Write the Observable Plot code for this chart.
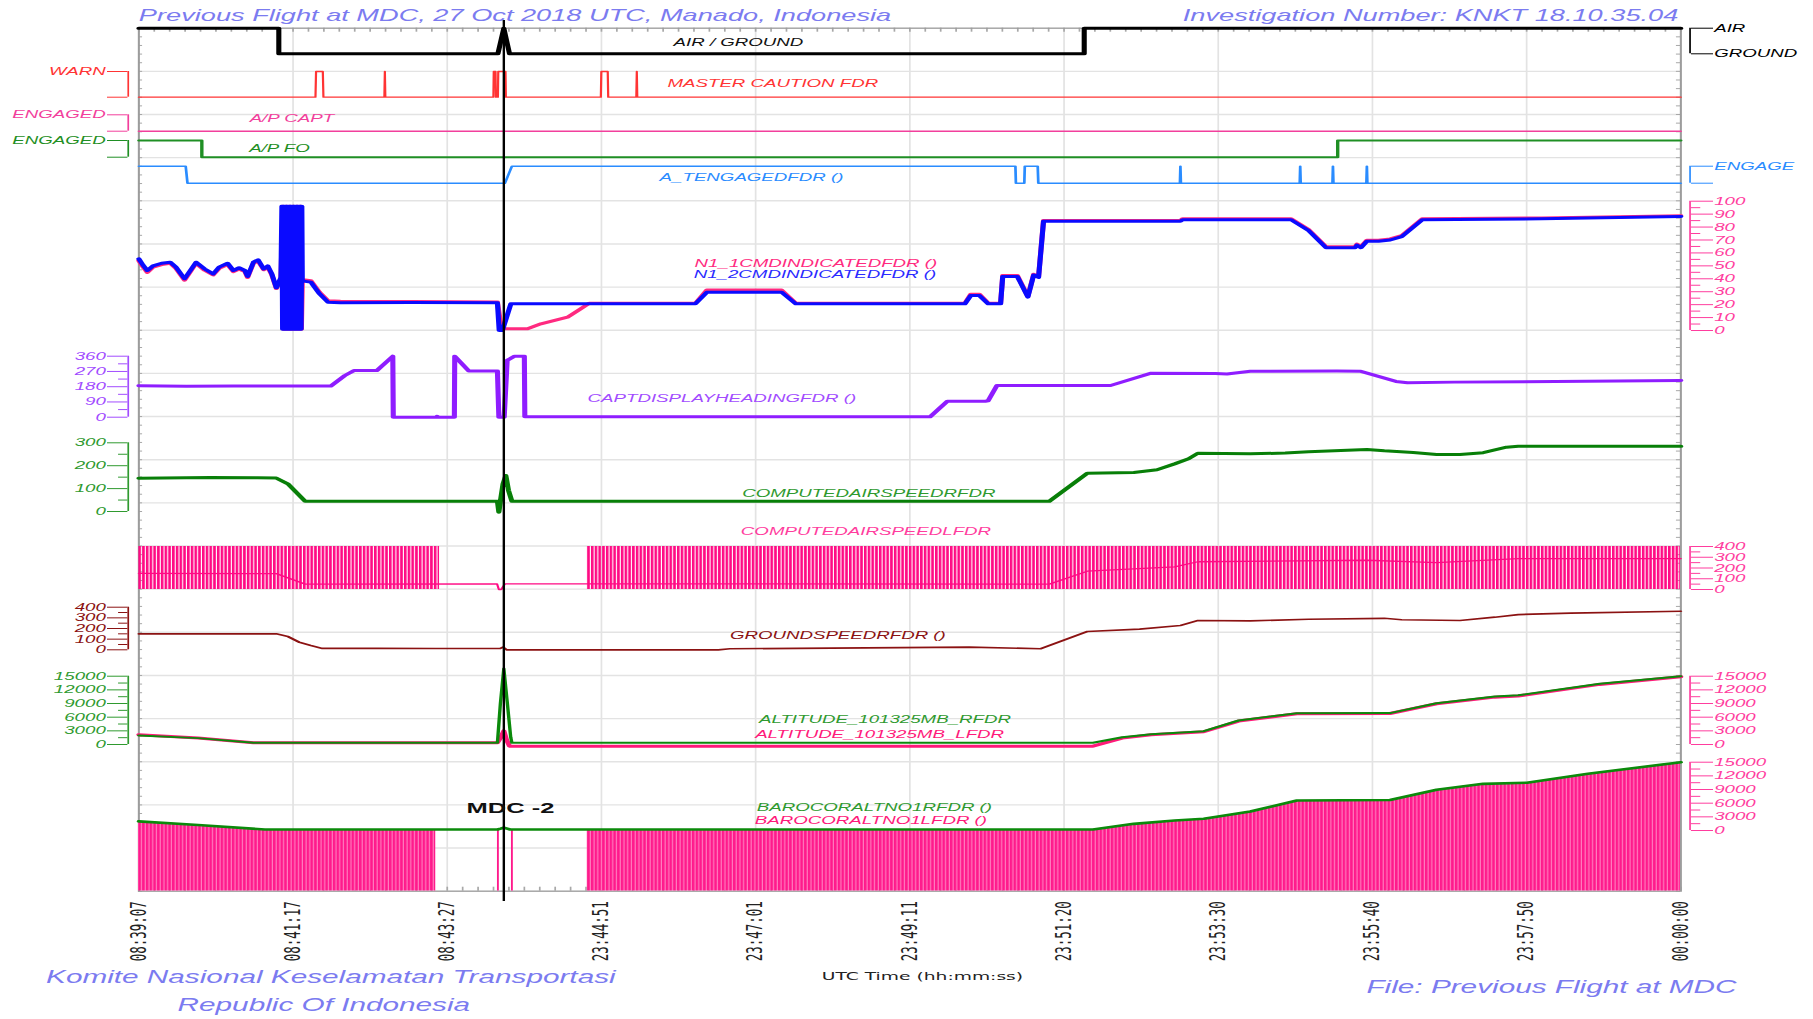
<!DOCTYPE html>
<html>
<head>
<meta charset="utf-8">
<script src="https://cdn.jsdelivr.net/npm/d3@7"></script>
<script src="https://cdn.jsdelivr.net/npm/@observablehq/plot@0.6"></script>
<style>
html,body{margin:0;padding:0;background:#fff;}
#chart{width:1813px;height:1019px;overflow:hidden;}
</style>
</head>
<body>
<div id="chart"></div>
<script>
// ---------------- DATA (x = seconds of recording, shown with clock labels) ----------------
const xTickValues = [0,130,260,390,520,650,780,910,1040,1170,1300];
const xTickLabels = ["08:39:07","08:41:17","08:43:27","23:44:51","23:47:01","23:49:11","23:51:20","23:53:30","23:55:40","23:57:50","00:00:00"];
const mdcTime = 307.7;

const airGround = [[0,1],[118,1],[118,0],[302.7,0],[307.7,1],[312.5,0],[797,0],[797,1],[1300,1]];
const masterCaution = [[0,0],[148.9,0],[149.4,1],[155.1,1],[155.6,0],[207,0],[207.4,1],[207.8,0],[298.9,0],[299.2,1],[300.7,1],[301,0],[302.7,0],[303,1],[309.1,1],[309.4,0],[389.5,0],[389.9,1],[395.3,1],[395.7,0],[419.4,0],[419.8,1],[420.2,0],[1300,0]];
const apCapt = [[0,0],[1300,0]];
const apFo = [[0,1],[53.1,1],[53.1,0],[1010.7,0],[1010.7,1],[1300,1]];
const atEngaged = [[0,1],[39.5,1],[41,0],[308.6,0],[314.5,1],[739,1],[739.4,0],[746.5,0],[746.9,1],[757.8,1],[758.3,0],[877.7,0],[878.1,1],[878.5,0],[978.7,0],[979.1,1],[979.5,0],[1006.3,0],[1006.7,1],[1007.1,0],[1034.9,0],[1035.3,1],[1035.7,0],[1300,0]];

const n1Eng1 = [[0,54],[3.7,49],[7.1,45],[11.9,49],[19.2,51],[26.4,52],[31.3,48],[38.5,39],[43.4,45.5],[48.2,52],[55.5,46.6],[62.7,43],[67.6,48],[74.8,51],[79.7,45.5],[84.5,47.5],[89.4,45.5],[91.7,41],[96.6,52],[100.5,53.8],[105.3,47],[108.7,49],[112.1,43],[115.9,32.5],[119.8,40],
 [121.5,96],[122,1],[124.5,96],[125,1],[127.5,96],[128,1],[130.5,96],[131,1],[133.5,96],[134,1],[136.5,96],[137,1],[137.8,39],
 [140.2,39],[145,38.5],[152.3,29.5],[159.5,23],[170,22.6],[230,22.4],[302.3,22],[305,5],[307,1.3],[327.7,1.3],[339,5.2],[361.4,10.3],[372.6,16.8],[379.6,21],[469.2,21],[478.9,31.3],[541.8,31.3],[553.9,21],[696.4,21],[701.3,28],[708.7,28],[716.1,21],[726.5,21],[728.3,42.5],[740.6,42.5],[749.5,26.5],[754.4,43.5],[758.5,41.5],[762.7,85],[878.1,85],[880,86.5],[971.4,86.5],[986.1,78],[1000.9,64.8],[1025.4,64.8],[1027,66.8],[1030.3,64.8],[1035.3,69.8],[1045.1,69.8],[1055,70.8],[1064.7,73.4],[1081.9,86.4],[1182.5,87],[1300,88.8]];
const n1Eng2 = [[0,55.4],[3.7,50.3],[7.1,46.4],[11.9,50],[19.2,52],[26.4,52.8],[31.3,49],[38.5,40],[43.4,46.4],[48.2,52.8],[55.5,47.6],[62.7,43.8],[67.6,49],[74.8,52],[79.7,46.4],[84.5,48.5],[89.4,46.4],[91.7,41.8],[96.6,52.8],[100.5,54.7],[105.3,47.6],[108.7,50],[112.1,43.8],[115.9,33],[119.8,41],
 [120.6,96],[121.2,1],[121.8,96],[122.4,1],[123,96],[123.6,1],[124.2,96],[124.8,1],[125.4,96],[126,1],[126.6,96],[127.2,1],[127.8,96],[128.4,1],[129,96],[129.6,1],[130.2,96],[130.8,1],[131.4,96],[132,1],[132.6,96],[133.2,1],[133.8,96],[134.4,1],[135,96],[135.6,1],[136.2,96],[136.8,1],[137.4,96],[137.8,38],
 [140.2,38],[145,37.4],[152.3,28.4],[159.5,21.9],[170,21.4],[230,21.6],[302.3,21.4],[303.8,0],[306.5,0],[313.6,20.6],[469.2,20.6],[478.9,29.6],[541.8,29.6],[553.9,20.6],[696.4,20.6],[701.3,27],[708.7,27],[716.1,20.6],[726.5,20.6],[728.3,41.8],[740.6,41.8],[749.5,25.8],[754.4,43],[758.5,41],[762.7,84.5],[878.1,84.5],[880,85.6],[971.4,85.6],[986.1,77.3],[1000.9,64],[1025.4,64],[1027,66],[1030.3,64],[1035.3,69],[1045.1,69],[1055,70],[1064.7,72.6],[1081.9,85.6],[1182.5,86.4],[1300,88.2]];

const heading = [[0,185],[40,183],[80,184],[161.9,184],[173.7,246],[181.3,275],[200.6,275],[214.1,360],[214.5,0],[251,0],[251.5,5],[252,0],[266,0],[266.3,360],[278.2,273],[302.3,273],[303.5,0],[308,0],[310.5,335],[316.8,360],[325,360],[325.4,2],[667,2],[681.7,94.5],[713.6,94.5],[716,97],[723.4,187],[819.2,187],[853.5,260],[907.6,258],[917.4,255],[937,271.5],[1010,272],[1030.3,271],[1059.8,211],[1069.6,203],[1108.9,207],[1300,216]];

const casR = [[0,145],[20,146],[60,148],[100,147],[115.9,146],[125.6,121],[140.2,45],[302.3,45],[303.5,-3],[304.8,45],[307,120],[309.4,157],[311.6,93],[314.5,45],[767.6,45],[799.6,167],[838.8,170],[858.4,182],[873.2,208],[885,230],[892.8,254.6],[937,252],[966.5,255],[986.1,261],[1035.3,270.7],[1050,265],[1074.4,258],[1094.1,249],[1113.8,249],[1133.4,257],[1153,280.8],[1162.9,285],[1300,285]];
const casLTrace = [[0,150],[115.9,148],[140.2,50],[302,53],[303.5,0],[305.5,0],[307.5,35],[309,53],[767.6,50],[799.6,170],[873.2,210],[892.8,258],[1035.3,272],[1094.1,250],[1162.9,288],[1300,288]];
const casLBadSegments = [[0,253.8],[378.3,1300]];
const casLBadRange = [0, 400];

const groundSpeed = [[0,150],[115.9,150],[125.6,125],[135.3,71],[145,40],[154.7,12.5],[200,14],[250,12],[304.8,14],[307,25],[310,0],[488.5,0],[498.3,10],[642.4,20],[700,25],[760.2,10],[799.6,172],[843.7,194],[878.1,228],[892.8,275],[937,272],[986.1,287],[1050,296],[1064.7,282],[1113.8,275],[1143.2,306],[1162.9,331],[1207.1,344],[1300,362]];

const altR = [[0,2000],[50,1400],[96.6,370],[302.3,370],[304.8,9000],[307.7,16700],[310.5,9500],[313.5,1600],[314.5,370],[804.4,370],[829,1600],[853.5,2270],[897.8,2920],[927.2,5270],[976.3,6870],[1054.8,6900],[1094.1,9070],[1143.2,10540],[1162.9,10800],[1231.6,13330],[1300,15000]];
const altL = [[0,2150],[50,1450],[96.6,400],[302.3,400],[305,1500],[307.7,3000],[310,1000],[312.5,-370],[804.4,-370],[829,1400],[853.5,2150],[897.8,2800],[927.2,5150],[976.3,6750],[1054.8,6800],[1094.1,8950],[1143.2,10400],[1162.9,10650],[1231.6,13200],[1300,14900]];

const baroR = [[0,2000],[50,1200],[106.2,220],[302.3,220],[305,400],[307.7,600],[310.5,400],[313,220],[804.4,220],[838.8,1460],[873.2,2200],[897.8,2570],[937,4170],[976.3,6590],[1054.8,6700],[1094.1,8930],[1133.4,10250],[1170.2,10500],[1221.7,12450],[1300,15000]];
const baroL = [[0,2000,1],[50,1200,1],[106.2,220,1],[250.6,220,1],
 [378.3,220,2],[804.4,220,2],[838.8,1460,2],[873.2,2200,2],[897.8,2570,2],[937,4170,2],[976.3,6590,2],[1054.8,6700,2],[1094.1,8930,2],[1133.4,10250,2],[1170.2,10500,2],[1221.7,12450,2],[1300,15000,2]];
const baroLSpikes = [302.7, 314.5];
const baroLBadValue = -13300;

// series label anchors (time, value)
const labelAnchors = {
  ag:[505.5,0.45], mc:[534.5,0.52], apc:[129,0.76], apf:[118.5,0.5], at:[516.5,0.35],
  n1a:[570.8,51.5], n1b:[570,43.3], hdg:[491.5,108.6], casR:[615.4,77.3], casL:[613,542],
  gs:[589.3,134], altR:[629,5424], altL:[624.5,2262], baroR:[620.1,4985], baroL:[617.2,2196],
  mdc:[313.3,1.92]
};

// ---------------- LAYOUT ----------------
const S = 1.7;                      // horizontal stretch of the original figure
const W = 1813 / S, H = 1019;
const ML = 138 / S, MR = W - 1680 / S, MT = 27.7, MB = H - 890.7;
const innerW = W - ML - MR, innerH = H - MT - MB;
const LAX = 127.4 / S - ML;         // left bracket axes offset
const RAX = 1689.2 / S - (W - MR);  // right bracket axes offset
const P = {
  ag:[53.3,27.7], mc:[96.7,71], apc:[130.7,114.3], apf:[156.7,140], at:[182.7,165.7],
  n1:[330,200.7], hdg:[416.7,355.7], casR:[511,442.3], casL:[589,546], gs:[649.3,606.7],
  alt:[744,675.7], baro:[830,761.7], grid:[890.7,27.7]
};
const col = {
  title:"#7b7bf0", red:"#ff3434", capt:"#f23f9c", fo:"#1f8f24", at:"#2a8cff",
  n1a:"#ff2a80", n1b:"#0a0aff", hdg:"#8f1dff", hdgAx:"#a24cff", cas:"#087f08", casAx:"#2f9a2f",
  pink:"#ff0a84", pinkAx:"#ff3d9e", gs:"#8b1212", alt:"#0b8a0b", altL:"#ff1a7a", baroL:"#ff1a8c"
};
const FONT = "'Liberation Sans', Arial, sans-serif";
const X = d => d[0], Y = d => d[1];
const fmt = d => String(d);
const AXT = {fontSize: 11, fontStyle: "italic", tickPadding: 1.2, label: null};
const CAP = {text: d => d, lineAnchor: "middle", fontStyle: "italic", fill: col.title};

function leftAxis(color, lo, hi, major, minor, format = fmt) {
  return [
    Plot.ruleX([0], {y1: lo, y2: hi, stroke: color, strokeWidth: 1, dx: LAX}),
    Plot.axisY(major, {...AXT, anchor: "left", tickSize: 12, dx: LAX, stroke: color, fill: color, tickFormat: format}),
    minor.length ? Plot.axisY(minor, {anchor: "left", tickSize: 5.5, dx: LAX, stroke: color, fill: "none", label: null}) : null
  ];
}
function rightAxis(color, lo, hi, major, minor, format = fmt) {
  return [
    Plot.ruleX([1300], {y1: lo, y2: hi, stroke: color, strokeWidth: 1, dx: RAX}),
    Plot.axisY(major, {...AXT, anchor: "right", tickSize: 13, dx: RAX, stroke: color, fill: color, tickFormat: format}),
    minor.length ? Plot.axisY(minor, {anchor: "right", tickSize: 5.5, dx: RAX, stroke: color, fill: "none", label: null}) : null
  ];
}
function label(key, text, color) {
  const [t, v] = labelAnchors[key];
  return Plot.text([text], {x: t, y: v, text: d => d, fill: color, fontSize: 11, fontStyle: "italic"});
}
function panel(domain, range, marks) {
  return Plot.plot({
    width: W, height: H, marginLeft: ML, marginRight: MR, marginTop: MT, marginBottom: MB,
    x: {domain: [0, 1300], axis: null},
    y: {domain, range, axis: null},
    marks: marks.flat(Infinity).filter(Boolean)
  });
}

// ---------------- BACKGROUND ----------------
const base = Plot.plot({
  width: W, height: H, marginLeft: ML, marginRight: MR, marginTop: MT, marginBottom: MB,
  x: {domain: [0, 1300], axis: null},
  y: {domain: [0, 20], range: P.grid, axis: null},
  marks: [
    Plot.gridY(d3.range(0, 21), {stroke: "#e3e3e3", strokeOpacity: 1, strokeWidth: 1.4}),
    Plot.gridX(xTickValues, {stroke: "#e3e3e3", strokeOpacity: 1, strokeWidth: 1}),
    Plot.ruleY(d3.range(0, 20.001, 0.2), {stroke: "#a8a8a8", insetRight: innerW - 2.4}),
    Plot.ruleY(d3.range(0, 20.001, 0.2), {stroke: "#a8a8a8", insetLeft: innerW - 2.4}),
    Plot.ruleX(d3.range(0, 1300.001, 13), {stroke: "#a8a8a8", insetBottom: innerH - 4}),
    Plot.ruleX(d3.range(0, 1300.001, 13), {stroke: "#a8a8a8", insetTop: innerH - 4}),
    Plot.frame({stroke: "#9c9c9c", strokeWidth: 1.2}),
    Plot.axisX(xTickValues, {anchor: "bottom", tickSize: 0, tickPadding: 10, tickRotate: -90,
      tickFormat: d => xTickLabels[xTickValues.indexOf(d)], fontFamily: "DejaVu Sans Mono", fontSize: 12.5, fill: "#222", label: null}),
    Plot.text(["Previous Flight at MDC, 27 Oct 2018 UTC, Manado, Indonesia"], {...CAP, frameAnchor: "top-left", textAnchor: "start", dy: -12, fontSize: 16}),
    Plot.text(["Investigation Number: KNKT 18.10.35.04"], {...CAP, frameAnchor: "top-right", textAnchor: "end", dx: -1.5, dy: -12, fontSize: 16}),
    Plot.text(["Komite Nasional Keselamatan Transportasi"], {...CAP, frameAnchor: "bottom-left", textAnchor: "middle", dx: 330 / S - ML, dy: 86.3, fontSize: 17.5}),
    Plot.text(["Republic Of Indonesia"], {...CAP, frameAnchor: "bottom-left", textAnchor: "middle", dx: 323 / S - ML, dy: 114.3, fontSize: 17.5}),
    Plot.text(["File: Previous Flight at MDC"], {...CAP, frameAnchor: "bottom-right", textAnchor: "end", dx: 1735.7 / S - (W - MR), dy: 96, fontSize: 17.5}),
    Plot.text(["UTC Time (hh:mm:ss)"], {frameAnchor: "bottom", text: d => d, lineAnchor: "middle", textAnchor: "middle", dx: 921.6 / S - (ML + innerW / 2), dy: 85.3, fontSize: 11, fontFamily: "DejaVu Sans", fill: "#222"})
  ]
});

// ---------------- PANELS ----------------
const panels = [
  panel([0,1], P.ag, [
    Plot.line(airGround, {x: X, y: Y, stroke: "#000", strokeWidth: 3}),
    rightAxis("#000", 0, 1, [0,1], [], d => d ? "AIR" : "GROUND"),
    label("ag", "AIR / GROUND", "#111")
  ]),
  panel([0,1], P.mc, [
    Plot.line(masterCaution, {x: X, y: Y, stroke: col.red, strokeWidth: 1.3}),
    leftAxis(col.red, 0, 1, [0,1], [], d => d ? "WARN" : ""),
    label("mc", "MASTER CAUTION FDR", col.red)
  ]),
  panel([0,1], P.apc, [
    Plot.line(apCapt, {x: X, y: Y, stroke: col.capt, strokeWidth: 1.5}),
    leftAxis(col.capt, 0, 1, [0,1], [], d => d ? "ENGAGED" : ""),
    label("apc", "A/P CAPT", col.capt)
  ]),
  panel([0,1], P.apf, [
    Plot.line(apFo, {x: X, y: Y, stroke: col.fo, strokeWidth: 2}),
    leftAxis(col.fo, 0, 1, [0,1], [], d => d ? "ENGAGED" : ""),
    label("apf", "A/P FO", col.fo)
  ]),
  panel([0,1], P.at, [
    Plot.line(atEngaged, {x: X, y: Y, stroke: col.at, strokeWidth: 1.6}),
    rightAxis(col.at, 0, 1, [0,1], [], d => d ? "ENGAGE" : ""),
    label("at", "A_TENGAGEDFDR ()", col.at)
  ]),
  panel([0,100], P.n1, [
    Plot.line(n1Eng1, {x: X, y: Y, stroke: col.n1a, strokeWidth: 3}),
    Plot.line(n1Eng2, {x: X, y: Y, stroke: col.n1b, strokeWidth: 3}),
    rightAxis(col.pinkAx, 0, 100, d3.range(0, 101, 10), d3.range(5, 100, 10)),
    label("n1a", "N1_1CMDINDICATEDFDR ()", col.n1a),
    label("n1b", "N1_2CMDINDICATEDFDR ()", "#2a2aff")
  ]),
  panel([0,360], P.hdg, [
    Plot.line(heading, {x: X, y: Y, stroke: col.hdg, strokeWidth: 3}),
    leftAxis(col.hdgAx, 0, 360, [0,90,180,270,360], [45,135,225,315]),
    label("hdg", "CAPTDISPLAYHEADINGFDR ()", col.hdgAx)
  ]),
  panel([0,300], P.casR, [
    Plot.line(casR, {x: X, y: Y, stroke: col.cas, strokeWidth: 3}),
    leftAxis(col.casAx, 0, 300, [0,100,200,300], [50,150,250]),
    label("casR", "COMPUTEDAIRSPEEDRFDR", col.casAx)
  ]),
  panel([0,400], P.casL, [
    Plot.rect(casLBadSegments, {x1: X, x2: Y, y1: casLBadRange[0], y2: casLBadRange[1], fill: "url(#combA)"}),
    Plot.line(casLTrace, {x: X, y: Y, stroke: col.pink, strokeWidth: 1.3}),
    rightAxis(col.pinkAx, 0, 400, [0,100,200,300,400], [50,150,250,350]),
    label("casL", "COMPUTEDAIRSPEEDLFDR", col.pinkAx)
  ]),
  panel([0,400], P.gs, [
    Plot.line(groundSpeed, {x: X, y: Y, stroke: col.gs, strokeWidth: 1.7}),
    leftAxis(col.gs, 0, 400, [0,100,200,300,400], [50,150,250,350]),
    label("gs", "GROUNDSPEEDRFDR ()", col.gs)
  ]),
  panel([0,15000], P.alt, [
    Plot.line(altL, {x: X, y: Y, stroke: col.altL, strokeWidth: 3}),
    Plot.line(altR, {x: X, y: Y, stroke: col.alt, strokeWidth: 2}),
    leftAxis(col.casAx, 0, 15000, d3.range(0, 15001, 3000), d3.range(1500, 15000, 3000)),
    rightAxis(col.pinkAx, 0, 15000, d3.range(0, 15001, 3000), d3.range(1500, 15000, 3000)),
    label("altR", "ALTITUDE_101325MB_RFDR", col.casAx),
    label("altL", "ALTITUDE_101325MB_LFDR", col.altL)
  ]),
  panel([0,15000], P.baro, [
    Plot.areaY(baroL, {x: X, y1: baroLBadValue, y2: Y, z: d => d[2], fill: "url(#combB)"}),
    Plot.ruleX(baroLSpikes, {y1: baroLBadValue, y2: 220, stroke: col.baroL, strokeWidth: 1.1}),
    Plot.line(baroR, {x: X, y: Y, stroke: col.alt, strokeWidth: 2.6}),
    rightAxis(col.pinkAx, 0, 15000, d3.range(0, 15001, 3000), d3.range(1500, 15000, 3000)),
    label("baroR", "BAROCORALTNO1RFDR ()", col.casAx),
    label("baroL", "BAROCORALTNO1LFDR ()", col.altL)
  ]),
  panel([0,20], P.grid, [
    Plot.ruleX([mdcTime], {y1: -0.24, y2: 20.18, stroke: "#000", strokeWidth: 1.4}),
    Plot.text(["MDC -2"], {x: labelAnchors.mdc[0], y: labelAnchors.mdc[1], text: d => d, fontSize: 15, fontWeight: "bold", fill: "#111"})
  ])
];

// ---------------- ASSEMBLE ONE SVG ----------------
const NS = "http://www.w3.org/2000/svg";
const defs = document.createElementNS(NS, "defs");
defs.innerHTML =
  `<pattern id="combA" patternUnits="userSpaceOnUse" x="0" y="0" width="2.2" height="20">` +
  `<rect x="0" y="0" width="1.55" height="20" fill="${col.pink}"/></pattern>` +
  `<pattern id="combB" patternUnits="userSpaceOnUse" x="0" y="0" width="2.2" height="20">` +
  `<rect x="0" y="0" width="2.2" height="20" fill="#ff7dbe"/>` +
  `<rect x="0" y="0" width="1.5" height="20" fill="${col.baroL}"/></pattern>`;
base.insertBefore(defs, base.firstChild);
for (const p of panels) {
  const g = document.createElementNS(NS, "g");
  while (p.firstChild) {
    if (p.firstChild.nodeName.toLowerCase() === "style") { p.removeChild(p.firstChild); continue; }
    g.appendChild(p.firstChild);
  }
  base.appendChild(g);
}
base.setAttribute("width", 1813);
base.setAttribute("height", 1019);
base.setAttribute("viewBox", `0 0 ${W} ${H}`);
base.setAttribute("preserveAspectRatio", "none");
base.setAttribute("style", `display:block;background:#fff;font-family:${FONT};width:1813px;height:1019px;max-width:none;overflow:visible`);
document.getElementById("chart").appendChild(base);
</script>
</body>
</html>
